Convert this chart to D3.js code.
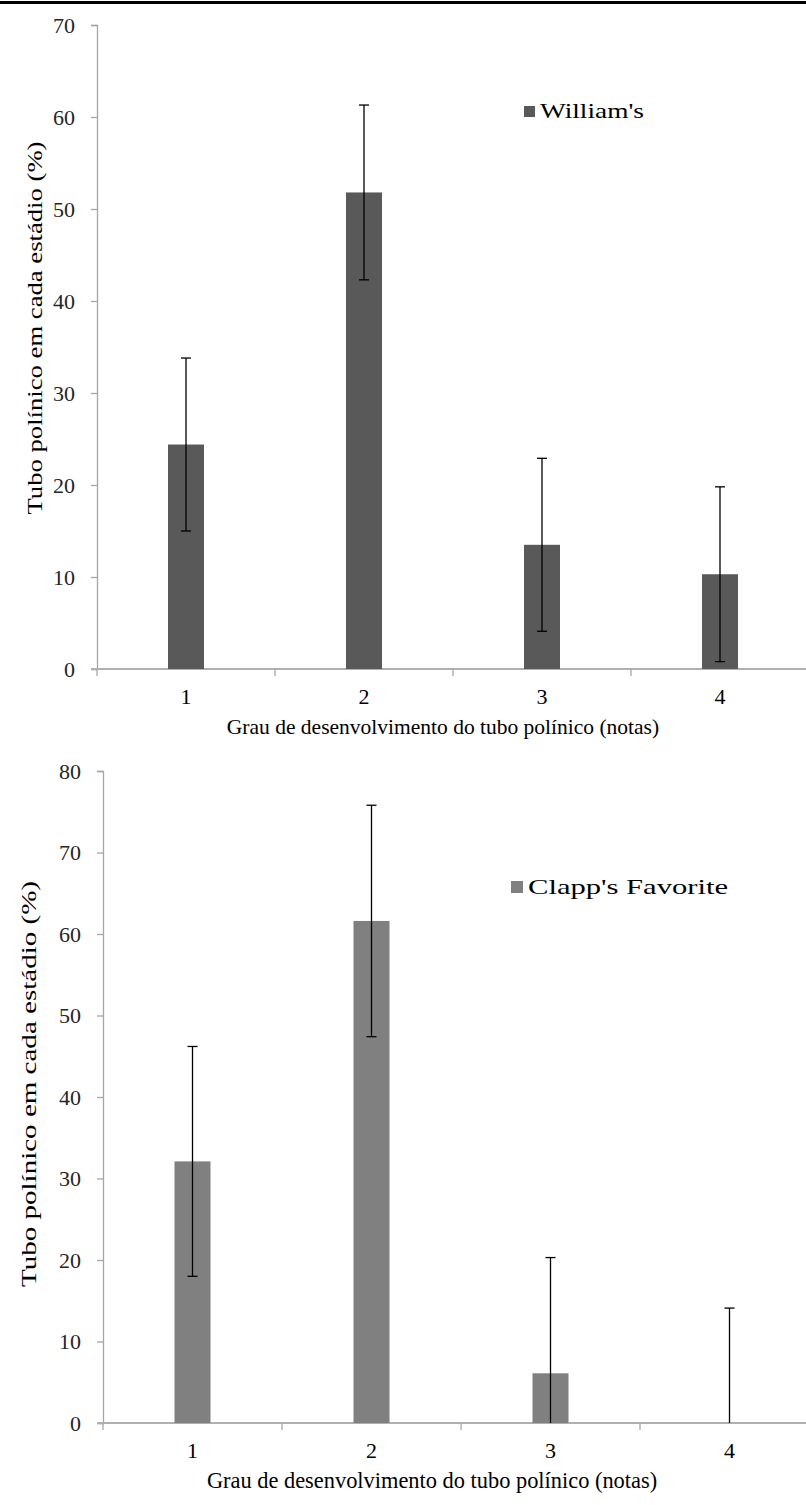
<!DOCTYPE html>
<html>
<head>
<meta charset="utf-8">
<script src="https://cdn.jsdelivr.net/npm/d3@7"></script>
<style>
  body { margin: 0; background: #fff; }
</style>
</head>
<body>
<div id="chart"></div>
<script>
var categories = ["1", "2", "3", "4"];

var williamsValues = [24.4, 51.8, 13.5, 10.3];
var williamsErrors = [9.4, 9.5, 9.4, 9.5];

var clappValues = [32.1, 61.6, 6.1, 0];
var clappErrors = [14.1, 14.2, 14.2, 14.1];

var williamsTicks = [0, 10, 20, 30, 40, 50, 60, 70];
var clappTicks = [0, 10, 20, 30, 40, 50, 60, 70, 80];

var serif = "'Liberation Serif', 'Times New Roman', Times, serif";

var svg = d3.select('#chart')
    .append('svg')
    .attr('width', 806)
    .attr('height', 1505)
    .style('font-family', serif);

// black rule across the top
svg.append('rect')
    .attr('x', 0).attr('y', 1)
    .attr('width', 806).attr('height', 3)
    .attr('fill', '#000');

function drawPanel(opts) {
    var x = d3.scaleBand()
        .domain(categories)
        .range([opts.left, opts.left + 4 * opts.band]);
    var y = d3.scaleLinear()
        .domain([0, opts.max])
        .range([opts.bottom, opts.top]);

    var g = svg.append('g');

    // y axis
    var yAxis = g.append('g')
        .attr('transform', 'translate(' + opts.left + ',0)')
        .call(d3.axisLeft(y).tickValues(opts.ticks).tickSize(6).tickPadding(16));
    yAxis.select('.domain').attr('stroke', '#a6a6a6').attr('stroke-width', 1.3);
    yAxis.selectAll('.tick line').attr('stroke', '#a6a6a6').attr('stroke-width', 1.3);
    yAxis.selectAll('.tick text')
        .style('font-family', serif)
        .style('font-size', '22px')
        .attr('fill', '#262626');

    // x axis baseline + band boundary ticks
    g.append('line')
        .attr('x1', opts.left - 6).attr('x2', 806)
        .attr('y1', opts.bottom).attr('y2', opts.bottom)
        .attr('stroke', '#b0b0b0').attr('stroke-width', 2);
    g.selectAll('.xtick')
        .data(categories)
        .enter().append('line')
        .attr('x1', function(d) { return x(d); })
        .attr('x2', function(d) { return x(d); })
        .attr('y1', opts.bottom).attr('y2', opts.bottom + 7)
        .attr('stroke', '#a6a6a6').attr('stroke-width', 1.3);

    g.selectAll('.xlabel')
        .data(categories)
        .enter().append('text')
        .attr('x', function(d) { return x(d) + x.bandwidth() / 2; })
        .attr('y', opts.bottom + 35)
        .attr('text-anchor', 'middle')
        .style('font-family', serif)
        .style('font-size', '22px')
        .text(function(d) { return d; });

    // bars
    var barW = 36;
    g.selectAll('.bar')
        .data(opts.values)
        .enter().append('rect')
        .attr('x', function(d, i) { return x(categories[i]) + x.bandwidth() / 2 - barW / 2; })
        .attr('y', function(d) { return y(d); })
        .attr('width', barW)
        .attr('height', function(d) { return opts.bottom - y(d); })
        .attr('fill', opts.color);

    // error bars
    var rows = opts.values.map(function(v, i) {
        return { cat: categories[i], hi: v + opts.errors[i], lo: v - opts.errors[i] };
    });
    var err = g.selectAll('.err')
        .data(rows)
        .enter().append('g')
        .attr('transform', function(d) {
            return 'translate(' + (x(d.cat) + x.bandwidth() / 2) + ',0)';
        });
    err.append('line')
        .attr('y1', function(d) { return y(d.hi); })
        .attr('y2', function(d) { return y(Math.max(0, d.lo)); })
        .attr('stroke', '#000').attr('stroke-width', 1.3);
    err.append('line')
        .attr('x1', -5).attr('x2', 5)
        .attr('y1', function(d) { return y(d.hi); })
        .attr('y2', function(d) { return y(d.hi); })
        .attr('stroke', '#000').attr('stroke-width', 1.3);
    err.filter(function(d) { return d.lo > 0; })
        .append('line')
        .attr('x1', -5).attr('x2', 5)
        .attr('y1', function(d) { return y(d.lo); })
        .attr('y2', function(d) { return y(d.lo); })
        .attr('stroke', '#000').attr('stroke-width', 1.3);

    // axis titles
    g.append('text')
        .attr('x', opts.xTitleX)
        .attr('y', opts.bottom + 65)
        .attr('text-anchor', 'middle')
        .style('font-family', serif)
        .style('font-size', opts.titleSize + 'px')
        .text('Grau de desenvolvimento do tubo polínico (notas)');

    g.append('text')
        .attr('transform', 'translate(' + opts.yTitleX + ',' + opts.yTitleY + ') rotate(-90) scale(' + opts.yStretch + ',1)')
        .attr('text-anchor', 'middle')
        .style('font-family', serif)
        .style('font-size', opts.yTitleSize + 'px')
        .text('Tubo polínico em cada estádio (%)');

    // legend
    g.append('rect')
        .attr('x', opts.legX).attr('y', opts.legY - opts.legBox - 1)
        .attr('width', opts.legBox).attr('height', opts.legBox)
        .attr('fill', opts.color);
    g.append('text')
        .attr('x', opts.legX + opts.legBox + 5)
        .attr('y', opts.legY)
        .attr('textLength', opts.legLen)
        .attr('lengthAdjust', 'spacingAndGlyphs')
        .style('font-family', serif)
        .style('font-size', '21px')
        .text(opts.name);
}

drawPanel({
    name: "William's",
    values: williamsValues, errors: williamsErrors, ticks: williamsTicks,
    max: 70, left: 97, band: 178, top: 25, bottom: 669,
    color: '#595959', titleSize: 21.5,
    xTitleX: 443, yTitleX: 42, yTitleY: 328, yTitleSize: 21, yStretch: 1.27,
    legX: 524, legY: 118, legBox: 11, legLen: 104
});

drawPanel({
    name: "Clapp's Favorite",
    values: clappValues, errors: clappErrors, ticks: clappTicks,
    max: 80, left: 103, band: 179, top: 771, bottom: 1423,
    color: '#808080', titleSize: 22.4,
    xTitleX: 432, yTitleX: 36, yTitleY: 1084, yTitleSize: 22, yStretch: 1.32,
    legX: 511, legY: 894, legBox: 12, legLen: 200
});
</script>
</body>
</html>
